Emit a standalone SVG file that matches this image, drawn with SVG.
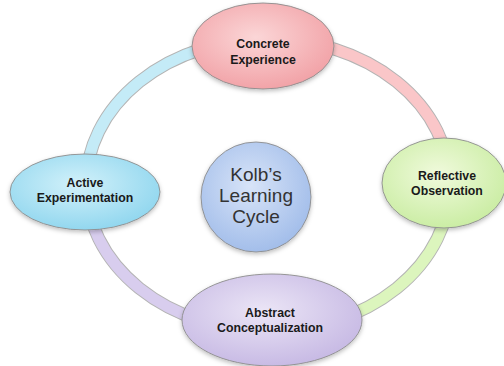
<svg xmlns="http://www.w3.org/2000/svg" width="504" height="366" viewBox="0 0 504 366">
  <defs>
    <style>
      .node { stroke: #8c8c8c; stroke-width: 0.9; filter: url(#shadow); }
      .label { font-family: "Liberation Sans", Arial, sans-serif; font-weight: bold; font-size: 12.3px; fill: #1a1a1a; text-anchor: middle; }
      .title { font-family: "Liberation Sans", Arial, sans-serif; font-size: 19px; fill: #333333; text-anchor: middle; }
      .ring-edge { fill: none; stroke: #b4b4b4; stroke-width: 13; }
      .ring { fill: none; stroke-width: 11; }
    </style>
    <filter id="shadow" x="-20%" y="-20%" width="140%" height="150%">
      <feDropShadow dx="0" dy="2" stdDeviation="2" flood-color="#000000" flood-opacity="0.25"/>
    </filter>
    <radialGradient id="gPink" cx="45%" cy="40%" r="65%">
      <stop offset="0" stop-color="#fbd6d7"/>
      <stop offset="1" stop-color="#f19fa4"/>
    </radialGradient>
    <radialGradient id="gCyan" cx="45%" cy="40%" r="65%">
      <stop offset="0" stop-color="#d2f1fa"/>
      <stop offset="1" stop-color="#8dd5ee"/>
    </radialGradient>
    <radialGradient id="gGreen" cx="45%" cy="40%" r="65%">
      <stop offset="0" stop-color="#f0fadc"/>
      <stop offset="1" stop-color="#c8eca0"/>
    </radialGradient>
    <radialGradient id="gPurple" cx="45%" cy="40%" r="65%">
      <stop offset="0" stop-color="#ebe5f6"/>
      <stop offset="1" stop-color="#c5b7e3"/>
    </radialGradient>
    <radialGradient id="gBlue" cx="45%" cy="40%" r="65%">
      <stop offset="0" stop-color="#d8e4f8"/>
      <stop offset="1" stop-color="#9fbbe9"/>
    </radialGradient>
  </defs>

  <rect width="504" height="366" fill="#ffffff"/>

  <!-- ring segments joining the four stages -->
  <g id="connectors">
    <path class="ring-edge" d="M86,185 A182,146 0 0 1 268,39"/>
    <path class="ring-edge" d="M268,39 A182,146 0 0 1 450,185"/>
    <path class="ring-edge" d="M450,185 A182,146 0 0 1 268,331"/>
    <path class="ring-edge" d="M268,331 A182,146 0 0 1 86,185"/>
    <path class="ring" stroke="#c4ebf7" d="M86,185 A182,146 0 0 1 268,39"/>
    <path class="ring" stroke="#fac6c8" d="M268,39 A182,146 0 0 1 450,185"/>
    <path class="ring" stroke="#dcf5bd" d="M450,185 A182,146 0 0 1 268,331"/>
    <path class="ring" stroke="#d8cdee" d="M268,331 A182,146 0 0 1 86,185"/>
  </g>

  <g id="concrete-experience">
    <ellipse class="node" cx="263" cy="46" rx="71" ry="43" fill="url(#gPink)"/>
    <text class="label" x="263" y="48">Concrete</text>
    <text class="label" x="263" y="64">Experience</text>
  </g>

  <g id="reflective-observation">
    <ellipse class="node" cx="444" cy="183" rx="62" ry="45" fill="url(#gGreen)"/>
    <text class="label" x="447" y="180">Reflective</text>
    <text class="label" x="447" y="195">Observation</text>
  </g>

  <g id="abstract-conceptualization">
    <ellipse class="node" cx="272" cy="320" rx="90" ry="46" fill="url(#gPurple)"/>
    <text class="label" x="270" y="317">Abstract</text>
    <text class="label" x="270" y="332">Conceptualization</text>
  </g>

  <g id="active-experimentation">
    <ellipse class="node" cx="85" cy="192" rx="75" ry="38" fill="url(#gCyan)"/>
    <text class="label" x="85" y="187">Active</text>
    <text class="label" x="85" y="202">Experimentation</text>
  </g>

  <g id="kolbs-learning-cycle">
    <circle class="node" cx="256" cy="197" r="55" fill="url(#gBlue)"/>
    <text class="title" x="256" y="181">Kolb’s</text>
    <text class="title" x="256" y="202">Learning</text>
    <text class="title" x="256" y="223">Cycle</text>
  </g>
</svg>
